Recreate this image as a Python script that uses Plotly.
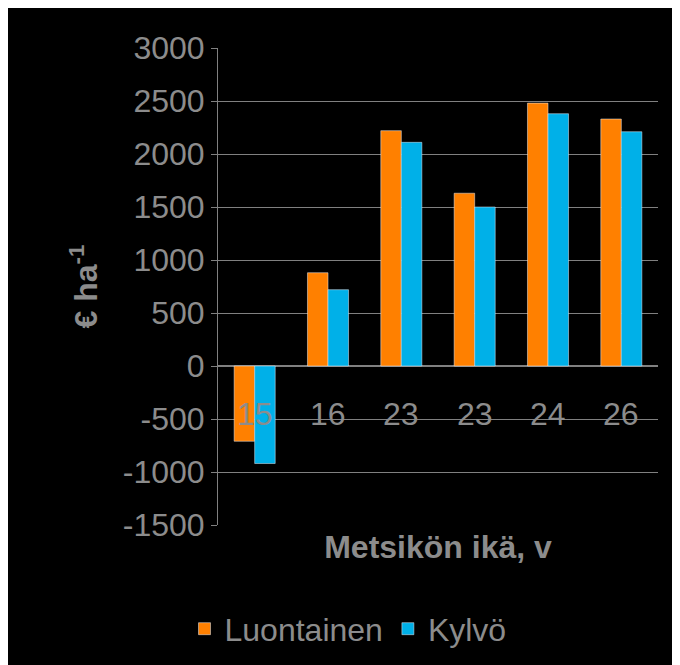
import plotly.graph_objects as go

categories = ["15", "16", "23", "23", "24", "26"]
luontainen = [-710, 880, 2220, 1630, 2480, 2330]
kylvo = [-920, 720, 2110, 1500, 2380, 2210]
yticks = [-1500, -1000, -500, 0, 500, 1000, 1500, 2000, 2500, 3000]

x = list(range(len(categories)))
grey = "#8c8c8c"
fig = go.Figure()
fig.add_bar(x=x, y=luontainen, name="Luontainen", marker_color="#FF8000")
fig.add_bar(x=x, y=kylvo, name="Kylvö", marker_color="#00B0E8")
for i, c in enumerate(categories):
    fig.add_annotation(x=i, y=-450, text=c, showarrow=False,
                       font=dict(size=32, color=grey, family="Liberation Sans"))
fig.update_layout(
    width=680, height=665, paper_bgcolor="black", plot_bgcolor="black",
    margin=dict(l=210, r=30, t=40, b=148, autoexpand=False),
    barmode="group", bargap=0.44, bargroupgap=0,
    font=dict(family="Liberation Sans", color=grey),
    legend=dict(orientation="h", x=0.5, xanchor="center", xref="container",
                y=0.025, yanchor="bottom", yref="container",
                font=dict(size=32, color=grey), itemwidth=30),
    xaxis=dict(range=[-0.5, 5.5], showticklabels=False, showgrid=False,
               zeroline=False,
               title=dict(text="<b>Metsikön ikä, v</b>", font=dict(size=32, color=grey), standoff=10)),
    yaxis=dict(range=[-1500, 3000], tickvals=yticks, ticktext=[str(v) for v in yticks],
               tickfont=dict(size=32, color=grey),
               gridcolor="#808080", gridwidth=1, zeroline=True, zerolinecolor="#808080",
               showline=True, linecolor="#808080", ticks="outside", ticklen=6, tickcolor="#808080",
               title=dict(text="<b>€ ha<sup>-1</sup></b>", font=dict(size=32, color=grey), standoff=15)),
)
fig.write_html("out.html")
